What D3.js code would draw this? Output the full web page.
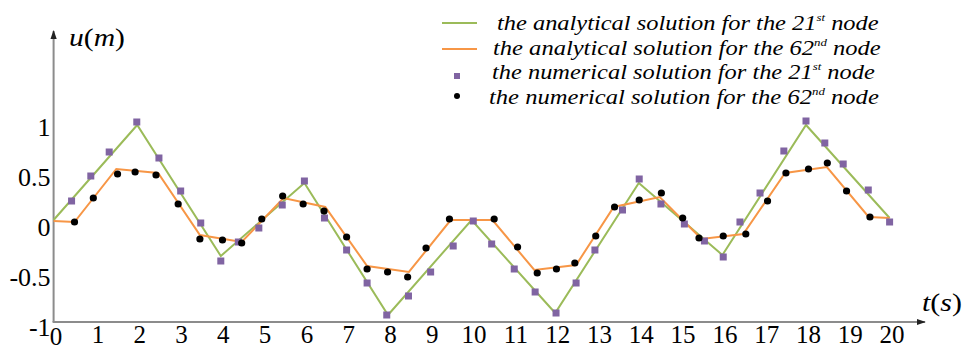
<!DOCTYPE html>
<html><head><meta charset="utf-8">
<title>chart</title>
<style>
html,body{margin:0;padding:0;background:#fff;}
#chart{display:block;}
#chart text, #chart tspan{font-family:"Times New Roman","Liberation Serif",Tinos !important;}
</style>
<script src="https://cdn.jsdelivr.net/npm/d3@7/dist/d3.min.js"></script>
</head>
<body>
<svg id="chart" width="963" height="350" font-family="Times New Roman"></svg>
<script>
// ---- data ----
const analyticT21 = [0,2,4,6,8,10,12,14,16,18,20];
const analyticU21 = [0.02,0.97,-0.34,0.39,-0.93,0.02,-0.91,0.39,-0.33,0.97,0.04];
const analyticT62 = [0,0.5,1.5,2.5,3.5,4.5,5.5,6.5,7.5,8.5,9.5,10.5,11.5,12.5,13.4,14.5,15.5,16.5,17.5,18.5,19.5,20];
const analyticU62 = [0.01,0,0.53,0.49,-0.13,-0.2,0.24,0.15,-0.44,-0.5,0.02,0.02,-0.48,-0.43,0.15,0.25,-0.17,-0.12,0.49,0.55,0.05,0.04];
const numT21 = [0.43,0.89,1.33,1.99,2.52,3.04,3.52,4.0,4.42,4.91,5.47,6.0,6.48,7.01,7.5,7.97,8.49,9.02,9.56,10.04,10.48,11.02,11.52,12.02,12.5,12.95,13.61,14.01,14.53,15.09,15.57,16.02,16.42,16.9,17.47,18.0,18.45,18.89,19.49,20.0];
const numU21 = [0.21,0.46,0.70,1.0,0.64,0.31,-0.01,-0.39,-0.2,-0.06,0.17,0.41,0.04,-0.28,-0.61,-0.93,-0.74,-0.50,-0.24,0.01,-0.22,-0.47,-0.70,-0.91,-0.61,-0.28,0.12,0.43,0.18,-0.02,-0.19,-0.35,0.0,0.29,0.71,1.01,0.79,0.58,0.32,0.0];
const numT62 = [0.5,0.95,1.53,1.95,2.45,2.98,3.5,4.04,4.5,4.98,5.48,5.97,6.47,7.01,7.5,7.99,8.47,8.91,9.47,10.54,11.1,11.57,12.03,12.47,12.97,13.42,14.01,14.54,15.05,15.44,16.02,16.56,17.08,17.52,18.06,18.51,18.97,19.53];
const numU62 = [0.0,0.24,0.48,0.50,0.47,0.18,-0.17,-0.18,-0.21,0.03,0.26,0.18,0.11,-0.15,-0.47,-0.50,-0.55,-0.26,0.03,0.03,-0.25,-0.51,-0.47,-0.41,-0.14,0.15,0.22,0.29,0.04,-0.16,-0.14,-0.12,0.21,0.49,0.53,0.59,0.31,0.05];
const xTicks = [0,1,2,3,4,5,6,7,8,9,10,11,12,13,14,15,16,17,18,19,20];
const yTicks = [-1,-0.5,0,0.5,1];
const yTickLabels = ["-1","-0.5","0","0.5","1"];
const legendLabels = [
  ["the analytical solution for the 21","st"," node"],
  ["the analytical solution for the 62","nd"," node"],
  ["the numerical solution for the 21","st"," node"],
  ["the numerical solution for the 62","nd"," node"]
];

const FONT = "Times New Roman";
const svg = d3.select("#chart");
const x = d3.scaleLinear().domain([0,20]).range([53.6, 889.6]);
const y = d3.scaleLinear().domain([-1,1]).range([322,122]);
const GREEN = "#9bbb59", ORANGE = "#f79646", PURPLE = "#8064a2", AXIS = "#8c8c8c";

function fitWidth(sel, left, width) {
  const bb = sel.node().getBBox();
  const s = width / bb.width;
  sel.attr("transform", `translate(${left},0) scale(${s},1) translate(${-bb.x},0)`);
}

// axes lines with arrows
const defs = svg.append("defs");
defs.append("marker").attr("id","arr").attr("viewBox","0 0 10 10").attr("refX",9).attr("refY",5)
  .attr("markerWidth",9).attr("markerHeight",9).attr("markerUnits","userSpaceOnUse").attr("orient","auto")
  .append("path").attr("d","M0,1.5 L10,5 L0,8.5 Z").attr("fill","#222");

svg.append("line").attr("x1",x(0)).attr("y1",y(-1)).attr("x2",x(0)).attr("y2",31)
  .attr("stroke",AXIS).attr("stroke-width",2).attr("marker-end","url(#arr)");
svg.append("line").attr("x1",x(0)-1).attr("y1",y(-1)).attr("x2",925).attr("y2",y(-1))
  .attr("stroke",AXIS).attr("stroke-width",2).attr("marker-end","url(#arr)");

// y axis labels
const yAxis = d3.axisLeft(y).tickValues(yTicks).tickSize(0).tickPadding(3)
  .tickFormat((d,i)=>yTickLabels[i]);
const gy = svg.append("g").attr("transform",`translate(${x(0)},0)`).call(yAxis);
gy.attr("font-family",FONT).attr("font-size",26);
gy.select(".domain").remove();
gy.selectAll("text").attr("font-family",FONT).attr("fill","#000").attr("dy","0.52em");

// x axis labels
const xAxis = d3.axisBottom(x).tickValues(xTicks).tickSize(0).tickPadding(3).tickFormat(d3.format("d"));
const gx = svg.append("g").attr("transform",`translate(2,${y(-1)})`).call(xAxis);
gx.attr("font-family",FONT).attr("font-size",25);
gx.select(".domain").remove();
gx.selectAll("text").attr("font-family",FONT).attr("fill","#000")
  .attr("dy",(d)=> d===0 ? "0.8em" : "0.71em");

// analytical lines
const line = d3.line().x(d=>x(d[0])).y(d=>y(d[1]));
svg.append("path").datum(analyticT21.map((t,i)=>[t,analyticU21[i]]))
  .attr("d",line).attr("fill","none").attr("stroke",GREEN).attr("stroke-width",2);
svg.append("path").datum(analyticT62.map((t,i)=>[t,analyticU62[i]]))
  .attr("d",line).attr("fill","none").attr("stroke",ORANGE).attr("stroke-width",2);

// numerical points
svg.append("g").selectAll("rect").data(numT21.map((t,i)=>[t,numU21[i]])).join("rect")
  .attr("x",d=>x(d[0])-3.5).attr("y",d=>y(d[1])-3.5).attr("width",7).attr("height",7).attr("fill",PURPLE);
svg.append("g").selectAll("circle").data(numT62.map((t,i)=>[t,numU62[i]])).join("circle")
  .attr("cx",d=>x(d[0])).attr("cy",d=>y(d[1])).attr("r",3.6).attr("fill","#000");

// axis titles
function axisTitle(a, b, yy, left, width) {
  const t = svg.append("text").attr("y",yy).attr("font-family",FONT).attr("font-size",26).attr("fill","#000");
  t.append("tspan").attr("font-style","italic").text(a);
  t.append("tspan").text("(");
  t.append("tspan").attr("font-style","italic").text(b);
  t.append("tspan").text(")");
  fitWidth(t, left, width);
}
axisTitle("u","m",46,69,56);
axisTitle("t","s",311,922,40);

// legend
const legBase = [30,55,79,104];
const legLeft = [497,493,492,489];
const legRight = [879,881,875,879];
legendLabels.forEach((parts,i)=>{
  const t = svg.append("text").attr("y",legBase[i]).attr("font-family",FONT).attr("font-size",21)
    .attr("font-style","italic").attr("fill","#000");
  t.append("tspan").text(parts[0]);
  t.append("tspan").attr("font-size",11).attr("dy",-9).text(parts[1]);
  t.append("tspan").attr("dy",9).text(parts[2]);
  fitWidth(t, legLeft[i], legRight[i]-legLeft[i]);
});
svg.append("line").attr("x1",442).attr("x2",477).attr("y1",23).attr("y2",23).attr("stroke",GREEN).attr("stroke-width",2);
svg.append("line").attr("x1",442).attr("x2",477).attr("y1",49).attr("y2",49).attr("stroke",ORANGE).attr("stroke-width",2);
svg.append("rect").attr("x",454).attr("y",73).attr("width",6).attr("height",6).attr("fill",PURPLE);
svg.append("circle").attr("cx",457).attr("cy",96).attr("r",3).attr("fill","#000");
</script>
</body></html>
